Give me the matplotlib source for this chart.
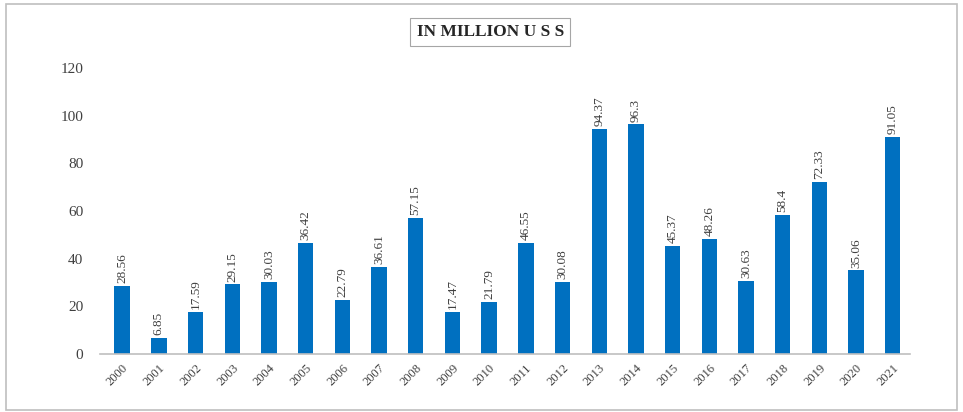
import matplotlib
matplotlib.use("Agg")
import matplotlib.pyplot as plt
from matplotlib.patches import Rectangle

years = [str(y) for y in range(2000, 2022)]
values = [28.56, 6.85, 17.59, 29.15, 30.03, 46.42, 22.79, 36.61, 57.15, 17.47,
          21.79, 46.55, 30.08, 94.37, 96.3, 45.37, 48.26, 30.63, 58.4, 72.33,
          35.06, 91.05]
labels = ["28.56", "6.85", "17.59", "29.15", "30.03", "36.42", "22.79", "36.61",
          "57.15", "17.47", "21.79", "46.55", "30.08", "94.37", "96.3", "45.37",
          "48.26", "30.63", "58.4", "72.33", "35.06", "91.05"]
yticks = [0, 20, 40, 60, 80, 100, 120]
title = "IN MILLION U S S"

plt.rcParams['font.family'] = ['Liberation Serif', 'DejaVu Serif']

fig = plt.figure(figsize=(9.63, 4.12), dpi=100)
ax = fig.add_axes([0.104, 0.141, 0.841, 0.694])

x = list(range(len(years)))
ax.bar(x, values, width=0.42, color='#0070C0', zorder=2)
for xi, v, lab in zip(x, values, labels):
    ax.text(xi, v + 1.2, lab, rotation=90, ha='center', va='bottom',
            fontsize=9.5, color='#404040')

ax.set_xlim(-0.6, 21.47)
ax.set_ylim(0, 120)
ax.set_yticks(yticks)
ax.set_yticklabels([str(t) for t in yticks], fontsize=11, color='#404040')
ax.set_xticks(x)
ax.set_xticklabels(years, rotation=45, ha='right', rotation_mode='anchor',
                   fontsize=9, color='#404040')
ax.tick_params(axis='both', length=0)
ax.tick_params(axis='y', pad=12)
ax.tick_params(axis='x', pad=6)
for s in ['top', 'right', 'left']:
    ax.spines[s].set_visible(False)
ax.spines['bottom'].set_color('#BFBFBF')
ax.spines['bottom'].set_linewidth(1.2)

fig.text(0.509, 0.922, title, ha='center', va='center', fontsize=12.5,
         fontweight='bold', color='#262626',
         bbox=dict(boxstyle='square,pad=0.35', facecolor='white',
                   edgecolor='#A6A6A6', linewidth=0.8))

fig.patches.append(Rectangle((0.006, 0.006), 0.988, 0.985, transform=fig.transFigure,
                             fill=False, edgecolor='#BFBFBF', linewidth=1.2))

fig.savefig("out.png", dpi=100)
